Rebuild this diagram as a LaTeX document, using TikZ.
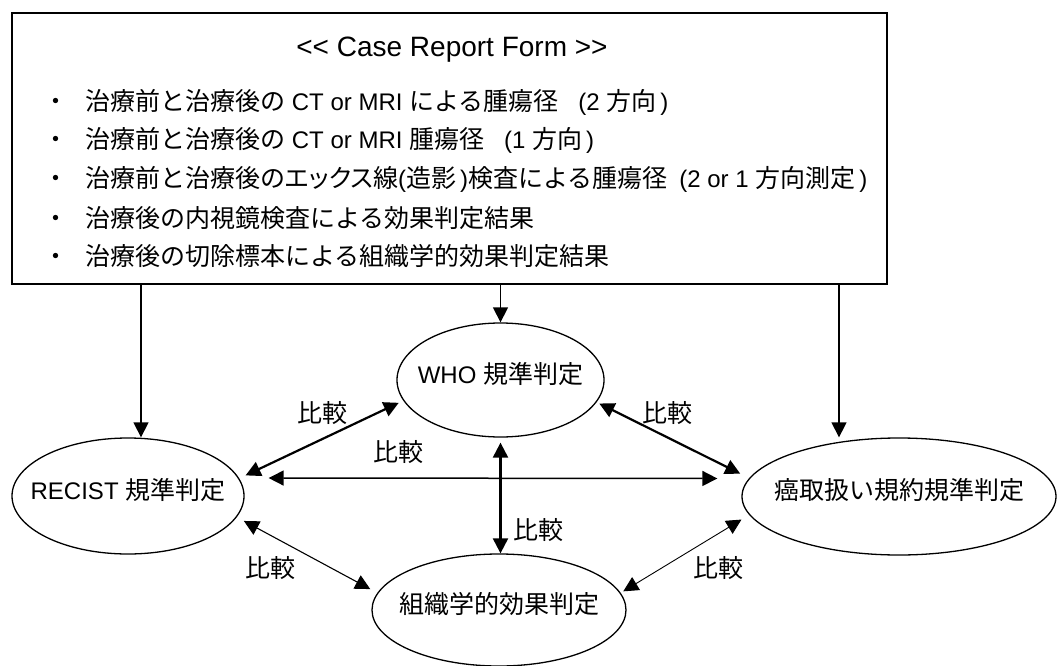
\documentclass[tikz,border=0pt]{standalone}
\usepackage{fontspec}
\setmainfont{Liberation Sans}
\newfontfamily\jp{Noto Sans CJK JP}[Scale=1.0417]
\newfontfamily\jpp{Noto Sans CJK JP}[Scale=1.0417,RawFeature=+palt]
\usetikzlibrary{arrows.meta,shapes.geometric}
\newcommand\J[1]{{\jp #1}}
\newcommand\JP[1]{{\jpp #1}}
\begin{document}
\begin{tikzpicture}[x=1pt,y=-1pt,
  base/.style={font=\fontsize{24}{28}\selectfont, inner sep=0pt},
  ell/.style={base, draw, ellipse, line width=1.3pt, inner xsep=-20pt, inner ysep=0pt, text height=18pt, text depth=12pt},
  ln/.style={base, anchor=base west},
  cmp/.style={base, anchor=base},
  tip/.style={-{Triangle[length=15pt,width=15pt]}},
  dtip/.style={{Triangle[length=15pt,width=15pt]}-{Triangle[length=15pt,width=15pt]}},
]
\useasboundingbox (0,0) rectangle (1057,666);

% Case report form box
\node[draw, line width=1.5pt, minimum width=875pt, minimum height=271pt, inner sep=0pt] (crf) at (449.5,148.4) {};
\node[base, font=\fontsize{28}{32}\selectfont, anchor=base] (title) at (452,57) {<{}< Case Report Form >{}>};
\node[ln] (l1) at (43,110.7) {\J{・}\hspace{17pt}\J{治療前と治療後の} CT or MRI \J{による腫瘍径}\hspace{20pt}(2 \J{方向}\,)};
\node[ln] (l2) at (43,149) {\J{・}\hspace{17pt}\J{治療前と治療後の} CT or MRI \J{腫瘍径}\hspace{20pt}(1 \J{方向}\,)};
\node[ln] (l3) at (43,187.3) {\J{・}\hspace{17pt}\J{治療前と治療後の}\JP{エックス}\J{線}(\J{造影}\,)\J{検査による腫瘍径}\hspace{12pt}(2 or 1 \J{方向測定}\,)};
\node[ln] (l4) at (43,227.3) {\J{・}\hspace{17pt}\J{治療後の内視鏡検査による効果判定結果}};
\node[ln] (l5) at (43,265.7) {\J{・}\hspace{17pt}\J{治療後の切除標本による組織学的効果判定結果}};

% judgement ellipses
\node[ell, minimum width=232pt, minimum height=116pt] (reci) at (128,496) {RECIST \J{規準判定}};
\node[ell, minimum width=207pt, minimum height=114pt] (who) at (500.5,380) {WHO \J{規準判定}};
\node[ell, minimum width=314pt, minimum height=117pt] (gan) at (899,496.5) {\J{癌取扱い規約規準判定}};
\node[ell, minimum width=254pt, minimum height=112pt] (sosh) at (499,610) {\J{組織学的効果判定}};

% arrows from the form
\coordinate (a1) at (141,284);
\coordinate (a3) at (839,284);
\draw[tip, line width=1.3pt] (a1) -- (a1 |- reci.north);
\draw[tip, line width=1.3pt] (crf.south -| who.north) -- (who.north);
\draw[tip, line width=1.3pt] (a3) -- (a3 |- gan.north);

% comparison arrows
\draw[dtip, line width=2.2pt, shorten <=7pt, shorten >=5pt] (reci.9) -- (who.192);
\draw[dtip, line width=2.2pt, shorten <=3pt, shorten >=10pt] (who.347) -- (gan.173);
\draw[dtip, line width=1.5pt, shorten <=24pt, shorten >=24pt] ([yshift=18pt]reci.east) -- ([yshift=18pt]gan.west);
\draw[dtip, line width=2.2pt, shorten <=5pt] (who.south) -- (who.south |- sosh.north);
\draw[dtip, line width=1.1pt, shorten <=8pt, shorten >=8pt] (reci.349) -- (sosh.172);
\draw[dtip, line width=0.9pt, shorten <=3pt, shorten >=9pt] (sosh.8) -- (gan.187);

% labels
\node[cmp] (c1) at (322.5,422) {\J{比較}};
\node[cmp] (c2) at (398,461) {\J{比較}};
\node[cmp] (c3) at (667,422) {\J{比較}};
\node[cmp] (c4) at (538,539) {\J{比較}};
\node[cmp] (c5) at (270,577) {\J{比較}};
\node[cmp] (c6) at (718,577) {\J{比較}};
\end{tikzpicture}
\end{document}
